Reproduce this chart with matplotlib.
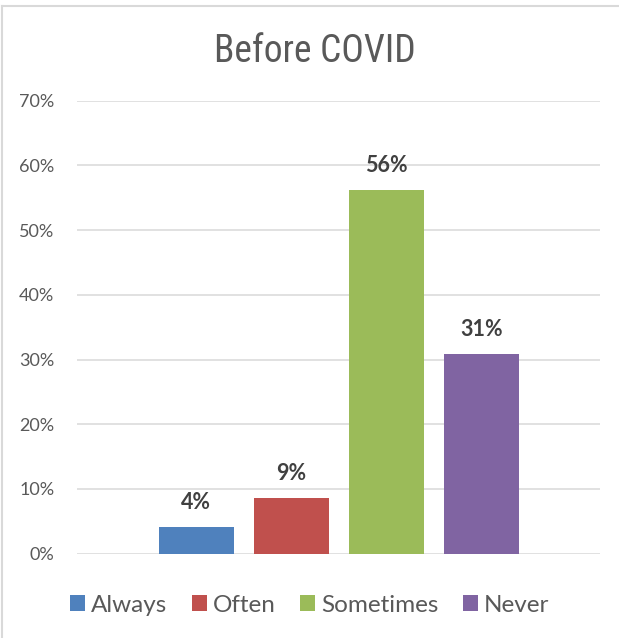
import matplotlib
matplotlib.use("Agg")
import matplotlib.pyplot as plt
from matplotlib.patches import Patch
from matplotlib.lines import Line2D

categories = ["Always", "Often", "Sometimes", "Never"]
values = [4.1, 8.6, 56.2, 30.9]
colors = ["#4F81BD", "#C0504D", "#9BBB59", "#8064A2"]
yticks = [0, 10, 20, 30, 40, 50, 60, 70]
title = "Before COVID"

W, H, DPI = 619, 638, 100
fig = plt.figure(figsize=(W / DPI, H / DPI), dpi=DPI)
fig.patch.set_facecolor("white")

ax = fig.add_axes([76.7 / W, 1 - 553.7 / H, (600 - 76.7) / W, (553.7 - 100.7) / H])

x = list(range(len(categories)))
bars = ax.bar(x, values, width=0.79, color=colors, zorder=3)

for xi, v in zip(x, values):
    ax.annotate(f"{v:.0f}%", (xi, v), xytext=(0, 13), textcoords="offset points",
                ha="center", va="baseline", fontsize=15.5, fontweight="bold",
                color="#404040", family="Lato")

ax.set_ylim(0, 70)
ax.set_xlim(-1.26, 4.25)
ax.set_yticks(yticks)
ax.set_yticklabels([f"{t}%" for t in yticks], family="Lato", fontsize=13, color="#595959")
ax.set_xticks([])
ax.tick_params(axis="y", length=0, pad=16)
ax.yaxis.grid(True, color="#d9d9d9", linewidth=1.1, zorder=0)
for s in ax.spines.values():
    s.set_visible(False)

fig.text(0.508, 1 - 62.5 / H, title, ha="center", va="baseline", fontsize=27,
         color="#595959", family=["Roboto Condensed", "DejaVu Sans"], stretch="condensed")

handles = [Patch(facecolor=c, edgecolor="none") for c in colors]
fig.legend(handles, categories, loc="center", bbox_to_anchor=(0.5, 1 - 605 / H), ncol=4,
           frameon=False, prop={"family": "Lato", "size": 17.5}, labelcolor="#595959",
           handlelength=0.62, handleheight=0.62, handletextpad=0.25, columnspacing=1.0,
           borderaxespad=0)

# outer frame: left and top edges
fig.add_artist(Line2D([1.5 / W, 1.5 / W], [0, 1 - 6 / H], transform=fig.transFigure,
                      color="#d9d9d9", linewidth=1.5))
fig.add_artist(Line2D([1.5 / W, 1], [1 - 6 / H, 1 - 6 / H], transform=fig.transFigure,
                      color="#d9d9d9", linewidth=1.5))

fig.savefig("out.png", dpi=DPI, facecolor="white")
